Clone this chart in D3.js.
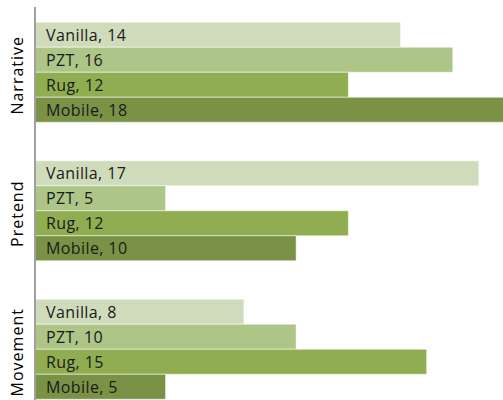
<!DOCTYPE html>
<html>
<head>
<meta charset="utf-8">
<script src="https://cdn.jsdelivr.net/npm/d3@7"></script>
<style>
  body { margin: 0; background: #fff; }
  svg { display: block; font-family: "Open Sans", Lato, sans-serif; }
</style>
</head>
<body>
<div id="chart"></div>
<script>
// Activity groups and play conditions
const categories = ["Narrative", "Pretend", "Movement"];
const series = ["Vanilla", "PZT", "Rug", "Mobile"];
const vanilla = [14, 17, 8];
const pzt = [16, 5, 10];
const rug = [12, 12, 15];
const mobile = [18, 10, 5];
const seriesValues = [vanilla, pzt, rug, mobile];
const colors = ["#cfdcbb", "#adc586", "#90ae51", "#7a9245"];

const width = 503, height = 400;

const svg = d3.select("#chart")
    .append("svg")
    .attr("width", width)
    .attr("height", height);

// Scales
const xScale = d3.scaleLinear()
    .domain([0, 18])
    .range([35, 505]);

const yScale = d3.scaleBand()
    .domain(categories)
    .range([3, 418.5])
    .paddingInner(0.278)
    .paddingOuter(0.139);

const ySub = d3.scaleBand()
    .domain(series)
    .range([0, yScale.bandwidth()]);

// Bars
categories.forEach((cat, ci) => {
    const g = svg.append("g")
        .attr("transform", `translate(0, ${yScale(cat)})`);

    series.forEach((s, si) => {
        const v = seriesValues[si][ci];
        g.append("rect")
            .attr("x", xScale(0))
            .attr("y", ySub(s))
            .attr("width", xScale(v) - xScale(0))
            .attr("height", ySub.bandwidth())
            .attr("fill", colors[si])
            .attr("stroke", "#fff")
            .attr("stroke-opacity", 0.5)
            .attr("stroke-width", 1);

        g.append("text")
            .attr("x", 46)
            .attr("y", ySub(s) + ySub.bandwidth() / 2)
            .attr("dy", "0.36em")
            .attr("font-size", 16)
            .attr("letter-spacing", 0.4)
            .attr("fill", "#1a1a1a")
            .text(`${s}, ${v}`);
    });

    // Category label
    svg.append("text")
        .attr("transform", `translate(23, ${yScale(cat) + yScale.bandwidth() / 2 + 3}) rotate(-90)`)
        .attr("text-anchor", "middle")
        .attr("font-size", 16)
        .attr("letter-spacing", 1)
        .attr("fill", "#000")
        .text(cat);
});

// Vertical axis line
svg.append("line")
    .attr("x1", 35).attr("x2", 35)
    .attr("y1", 7).attr("y2", height)
    .attr("stroke", "#a0a0a0")
    .attr("stroke-width", 2);
</script>
</body>
</html>
